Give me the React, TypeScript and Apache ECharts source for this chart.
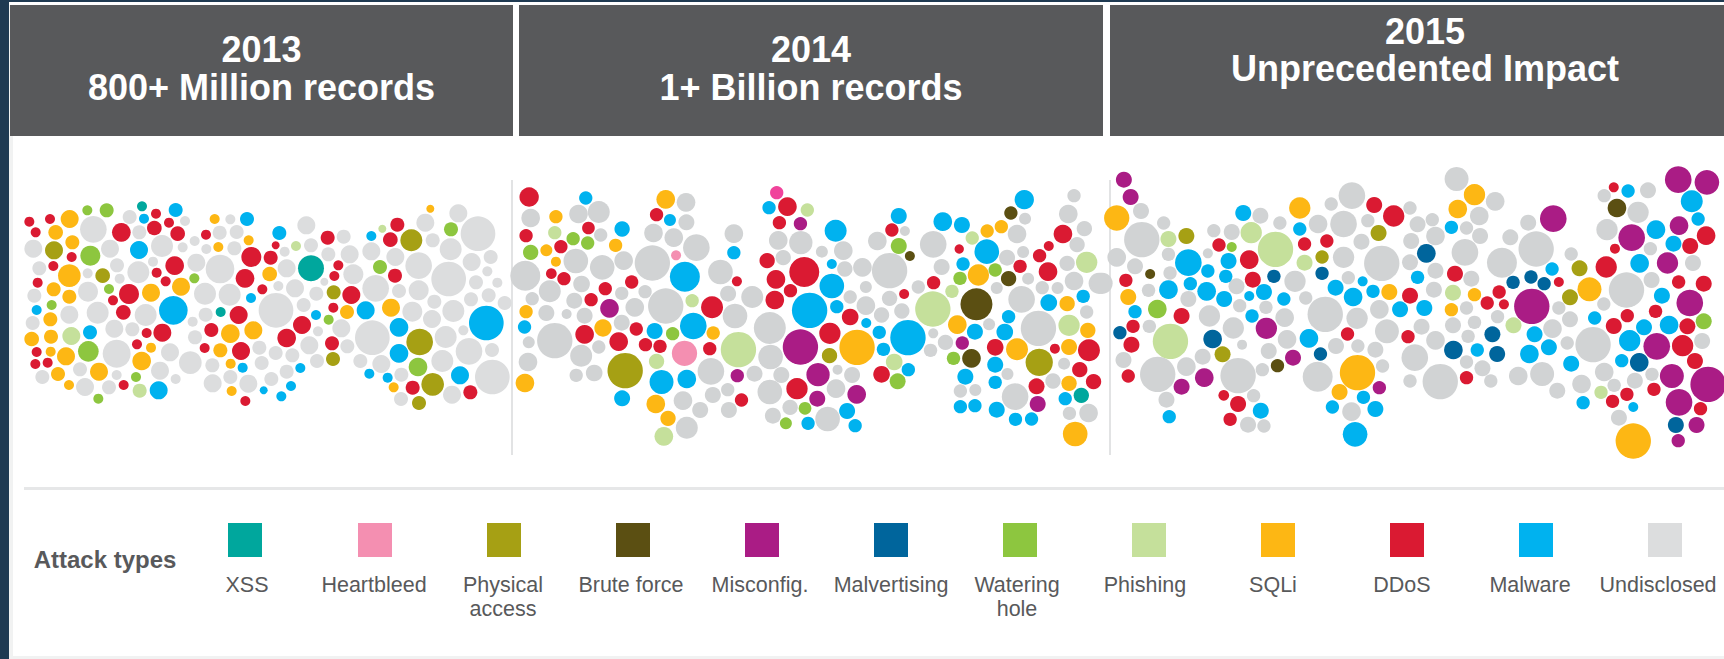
import React, { useEffect, useRef } from "react";
import * as echarts from "echarts";

// Each bubble is [x, y, radius] in the plot units of its year's panel.
type Bubble = [number, number, number];

const attackTypes = ["XSS", "Heartbleed", "Physical\naccess", "Brute force", "Misconfig.", "Malvertising", "Watering\nhole", "Phishing", "SQLi", "DDoS", "Malware", "Undisclosed"];
const attackColors = ["#00a79d", "#f48fb1", "#a6a014", "#5b4f12", "#aa1c85", "#00659c", "#8dc63f", "#c5e09b", "#fdb714", "#da1a32", "#00b2ef", "#dcddde"];
const grey2014 = "#d1d3d4";
const hotPink = "#f0439b";

const headers = [
  { lines: ["2013", "800+ Million records"], x0: 10, x1: 513, y: [49, 87] },
  { lines: ["2014", "1+ Billion records"], x0: 519, x1: 1103, y: [49, 87] },
  { lines: ["2015", "Unprecedented Impact"], x0: 1110, x1: 1740, y: [31, 68] },
];

const ddos2013: Bubble[] = [[88,665,15],[107,697,15],[150,657,15],[215,771,15],[160,798,15],[113,848,15],[364,697,28],[463,684,22],[468,641,15],[507,668,15],[533,701,22],[470,818,15],[497,844,15],[524,797,28],[387,882,30],[339,901,15],[370,937,22],[440,999,15],[487,998,27],[411,1033,15],[110,1056,15],[106,1092,15],[143,1088,15],[371,1155,15],[618,704,15],[754,771,30],[812,773,21],[827,736,12],[735,835,28],[787,868,15],[716,945,27],[634,990,21],[614,1044,15],[723,1053,27],[736,1203,15],[860,1014,28],[906,975,27],[983,713,21],[1015,796,15],[1003,828,15],[1054,885,27],[1000,923,15],[996,1030,21],[1192,674,21],[1171,719,22],[1185,827,21],[1238,1163,21],[1411,1177,21]];
const sqli2013: Bubble[] = [[209,657,27],[167,697,22],[217,727,21],[208,827,34],[161,868,21],[208,890,21],[151,958,21],[153,1010,21],[95,1017,22],[152,1055,15],[198,1069,27],[174,1122,21],[207,1155,15],[297,1115,27],[453,878,27],[543,860,27],[425,1083,28],[453,1043,15],[644,657,15],[655,741,15],[746,721,15],[809,822,22],[691,1001,28],[760,991,27],[661,1051,21],[692,1091,15],[695,1173,15],[1041,936,21],[1173,923,27],[1181,1162,15],[1291,626,12]];
const malware2013: Bubble[] = [[527,630,21],[432,656,15],[417,750,27],[520,931,43],[110,930,15],[270,997,21],[476,1171,27],[741,657,21],[838,699,21],[753,894,15],[948,945,15],[728,1103,15],[901,1104,15],[873,1158,15],[791,1171,12],[844,1189,15],[1114,708,15],[1097,931,27],[1197,982,28],[1197,1060,28],[1108,1121,15],[1163,1133,15],[1380,1126,27],[1459,969,52]];
const watering2013: Bubble[] = [[262,631,15],[320,631,21],[271,767,30],[327,867,15],[155,915,15],[265,1054,31],[408,1131,15],[295,1196,15],[583,835,15],[986,959,15],[1140,801,21],[1353,688,21],[1254,1101,28]];
const phishing2013: Bubble[] = [[214,1008,27],[419,1172,21],[888,738,15],[1147,686,12]];
const physical2013: Bubble[] = [[162,751,27],[308,827,22],[1001,877,21],[999,1077,21],[1234,721,33],[1259,1026,40],[1298,1153,34],[1257,1209,21]];
const xss2013: Bubble[] = [[426,619,15],[662,936,15],[933,805,39]];
const undisclosed2013: Bubble[] = [[100,746,27],[280,688,40],[389,651,21],[418,697,21],[555,663,15],[486,738,33],[330,746,27],[548,742,15],[118,805,21],[351,796,21],[415,817,33],[459,785,15],[263,820,15],[359,836,15],[103,887,21],[264,875,30],[208,944,27],[293,938,33],[437,945,33],[98,969,21],[343,986,27],[397,988,21],[350,1061,42],[510,1057,27],[240,1108,21],[127,1131,21],[480,1112,27],[350,1125,15],[255,1161,27],[327,1162,21],[527,1137,15],[571,1088,34],[584,723,15],[619,747,15],[659,698,21],[710,696,21],[691,658,15],[703,745,21],[589,788,27],[660,807,43],[615,881,33],[689,884,33],[617,944,21],[578,965,15],[585,1012,21],[637,1096,21],[691,1131,21],[638,1150,27],[745,1151,27],[778,1043,21],[827,1059,21],[785,1089,21],[877,1066,21],[860,1115,21],[814,1137,21],[919,676,27],[933,736,21],[854,755,15],[860,805,27],[835,858,15],[885,865,27],[949,881,21],[828,931,52],[911,915,21],[954,994,15],[928,1036,27],[951,1083,21],[1031,710,21],[985,763,21],[1049,763,27],[1060,823,30],[973,845,12],[1024,985,27],[1042,1039,21],[1127,865,40],[1114,754,27],[1186,771,27],[1197,873,21],[1237,935,30],[1256,797,40],[1276,668,27],[1375,640,27],[1298,721,21],[1352,748,33],[1434,701,52],[1415,786,27],[1472,771,21],[1462,814,15],[1346,837,52],[1428,847,21],[1492,848,15],[1256,871,30],[1466,886,21],[1413,898,21],[1303,905,21],[1296,957,27],[1360,933,33],[1514,909,21],[1337,1011,33],[1390,991,15],[1407,1054,40],[1476,1050,21],[1327,1083,33],[1477,1131,52],[1117,1013,52],[1081,1083,21],[1144,1092,27],[1204,1124,21],[1356,1184,27],[1203,1197,21]];

const ddos2014: Bubble[] = [[50,141,29],[42,257,20],[205,234,19],[133,290,20],[108,371,16],[141,386,20],[318,396,20],[249,416,20],[212,449,20],[195,553,28],[284,575,28],[330,537,20],[354,584,20],[392,589,20],[383,194,20],[528,472,33],[522,596,20],[593,394,15],[725,170,28],[704,218,20],[672,332,23],[695,388,28],[733,422,20],[692,450,28],[769,366,45],[836,550,32],[750,716,32],[605,750,20],[889,501,25],[971,673,25],[998,240,20],[1107,398,20],[1030,432,15],[1174,297,14],[1333,349,20],[1384,317,20],[1408,288,15],[1406,365,28],[1445,252,28],[1268,592,25],[1424,596,15],[1513,601,33],[1489,659,23],[1525,695,23],[1376,709,24]];
const sqli2014: Bubble[] = [[120,200,20],[95,301,18],[120,335,15],[42,485,20],[276,286,20],[407,148,28],[243,534,26],[531,549,20],[39,699,28],[381,762,28],[413,805,23],[907,592,53],[1169,524,28],[1247,243,20],[1284,230,20],[1224,375,32],[1325,598,33],[1456,461,23],[1510,541,23],[1461,591,24],[1461,700,23],[1477,852,37]];
const malware2014: Bubble[] = [[198,144,20],[293,237,23],[38,531,20],[418,210,18],[585,308,20],[457,380,45],[479,528,40],[378,543,24],[462,687,28],[396,696,36],[293,745,24],[677,173,20],[851,242,33],[841,342,15],[841,408,37],[854,470,20],[783,481,53],[931,519,15],[965,547,20],[976,598,20],[1040,563,53],[1041,659,20],[1016,198,24],[1131,215,28],[1181,225,24],[1246,305,37],[1184,342,20],[1215,545,24],[1303,500,20],[1293,546,25],[1408,458,25],[1498,439,20],[1268,644,24],[1268,697,20],[1190,680,24],[1177,770,20],[1215,767,20],[1272,779,24],[1321,808,20],[1363,807,20],[1451,746,20],[1344,149,29],[779,820,20],[902,827,20],[881,783,24]];
const watering2014: Bubble[] = [[54,307,23],[165,266,20],[203,279,20],[425,551,20],[1016,288,24],[1013,694,24],[1176,385,20],[1268,360,20],[1159,625,20],[771,775,19],[721,820,18]];
const phishing2014: Bubble[] = [[117,248,20],[383,634,23],[476,452,20],[402,859,28],[597,599,53],[777,180,20],[1105,477,53],[1004,636,25],[1155,424,20],[1208,264,20],[1507,337,32],[1461,526,32]];
const physical2014: Bubble[] = [[301,662,53],[835,617,23],[1383,637,41]];
const bruteForce2014: Bubble[] = [[1309,189,20],[1045,318,15],[1303,386,23],[1219,463,48],[1206,625,28]];
const heartbleed2014: Bubble[] = [[456,610,38],[434,316,15]];
const heartbleedBright2014: Bubble[] = [[697,128,20]];
const misconfig2014: Bubble[] = [[260,475,28],[759,221,20],[594,677,20],[759,591,53],[805,674,35],[803,746,24],[906,733,28],[1182,579,20],[1379,762,24]];
const xss2014: Bubble[] = [[1493,736,23]];
const undisclosed2014: Bubble[] = [[54,204,28],[179,192,28],[232,186,33],[237,255,20],[172,333,37],[241,352,37],[297,332,28],[40,377,45],[187,402,25],[104,424,33],[58,446,20],[292,430,20],[353,425,20],[168,452,24],[148,492,15],[95,489,24],[195,497,24],[326,472,28],[292,518,24],[117,572,53],[49,577,18],[232,591,20],[186,617,33],[47,636,28],[173,676,20],[220,669,25],[460,157,28],[461,217,24],[375,249,28],[428,263,28],[487,293,40],[372,339,53],[407,468,53],[585,251,28],[550,366,37],[570,431,24],[633,441,33],[588,498,37],[679,534,48],[681,621,37],[525,664,40],[639,671,24],[709,675,24],[569,719,20],[530,735,24],[452,752,28],[497,780,24],[572,780,24],[462,833,33],[679,726,37],[687,797,24],[732,772,23],[830,807,37],[852,716,28],[856,659,15],[894,675,24],[701,271,28],[760,278,35],[714,323,23],[815,305,18],[871,302,28],[875,357,23],[921,352,28],[889,441,20],[930,411,18],[930,467,28],[971,495,23],[992,445,23],[992,362,53],[960,273,28],[1032,243,15],[1106,283,40],[1128,351,24],[1067,411,20],[1024,483,23],[1106,550,15],[1138,577,23],[1099,601,20],[1252,523,18],[1272,414,18],[1299,323,24],[1341,306,18],[1325,252,28],[1346,206,18],[1354,386,18],[1337,448,40],[1391,413,20],[1431,414,18],[1381,535,53],[1300,672,18],[1320,740,40],[1177,723,20],[1216,720,18],[1419,693,23],[1448,641,18],[1474,137,20],[1459,192,28],[1501,236,23],[1482,284,23],[1456,340,23],[1474,393,28],[1540,400,32],[1507,486,20],[1462,790,20],[1512,789,28]];

const misconfig2015: Bubble[] = [[60,89,24],[77,141,24],[418,535,32],[205,710,24],[262,683,28],[485,623,24],[702,713,20],[1139,206,40],[1085,469,53],[1453,89,40],[1525,97,37],[1336,263,40],[1455,227,28],[1426,339,32],[1482,459,40],[1399,589,40],[1437,678,36],[1528,703,53],[1455,757,40],[1499,825,24],[1453,872,20]];
const sqli2015: Bubble[] = [[42,204,38],[71,441,24],[502,174,32],[941,134,32],[899,177,28],[727,426,24],[941,434,20],[883,479,20],[1230,418,36],[647,668,53],[602,726,24],[1340,873,53]];
const ddos2015: Bubble[] = [[65,391,20],[83,529,20],[79,584,24],[71,678,20],[205,498,24],[299,285,20],[375,329,28],[384,389,24],[347,762,24],[311,736,16],[327,808,20],[514,282,20],[570,273,20],[689,165,24],[738,198,32],[622,552,20],[779,437,24],[774,560,20],[892,371,24],[973,459,20],[1003,426,20],[1015,463,15],[921,683,20],[1153,396,15],[1272,351,32],[1291,112,15],[1294,296,15],[1523,257,28],[1483,288,24],[1454,396,20],[1517,401,24],[1396,484,20],[1325,497,20],[1291,528,24],[1476,529,24],[1464,587,32],[1495,633,24],[1392,718,20],[1324,733,20],[1288,754,20],[1509,776,20]];
const malware2015: Bubble[] = [[360,189,24],[502,237,20],[222,338,40],[323,333,24],[271,363,20],[316,379,20],[227,401,20],[172,419,28],[268,424,28],[312,447,24],[375,438,15],[412,426,24],[462,447,20],[88,485,20],[382,498,20],[525,565,28],[592,413,24],[636,441,28],[660,394,15],[686,424,20],[754,478,24],[815,474,24],[798,382,20],[883,232,20],[948,600,20],[1079,612,28],[1128,592,24],[1092,553,24],[1136,357,20],[1184,641,24],[1243,504,20],[1214,758,20],[1327,123,20],[1487,154,33],[1503,207,20],[1397,239,28],[1441,281,24],[1356,340,28],[1412,437,24],[1430,525,28],[1367,532,24],[1331,572,32],[1311,632,20],[1340,771,15],[662,742,20],[692,777,24],[584,771,20],[174,800,20],[404,782,24],[641,853,37]];
const malvertising2015: Bubble[] = [[50,548,20],[283,567,28],[437,379,20],[558,370,20],[820,310,28],[554,612,20],[888,600,28],[986,553,24],[998,612,24],[1038,397,20],[1083,381,20],[1116,401,20],[1355,637,28],[1447,825,24]];
const watering2015: Bubble[] = [[144,477,28],[331,291,15],[1517,514,24]];
const phishing2015: Bubble[] = [[172,267,24],[380,248,32],[441,298,53],[514,338,24],[177,574,53],[887,428,24],[1039,526,24],[1259,727,20]];
const physical2015: Bubble[] = [[217,258,24],[308,613,24],[558,321,20],[700,249,24],[1205,355,24],[1181,442,24]];
const bruteForce2015: Bubble[] = [[126,372,15],[446,647,20],[1299,174,28]];
const undisclosed2015: Bubble[] = [[103,183,24],[105,269,53],[160,219,20],[42,322,28],[88,349,24],[172,313,20],[176,369,20],[5,400,32],[122,421,20],[222,447,24],[124,529,20],[59,630,24],[145,673,53],[217,650,28],[167,749,24],[275,498,32],[271,310,15],[286,242,20],[331,246,24],[403,197,24],[452,219,20],[343,409,24],[351,467,20],[417,472,20],[335,534,32],[357,584,15],[258,620,24],[347,677,53],[372,824,24],[412,828,20],[386,737,20],[408,659,20],[424,603,24],[470,568,28],[464,503,28],[490,394,32],[517,444,20],[548,222,28],[581,162,20],[633,137,40],[612,222,40],[657,275,24],[612,322,32],[673,212,20],[708,340,53],[624,383,20],[702,478,28],[566,493,53],[646,505,32],[593,588,24],[648,588,20],[692,599,24],[721,544,36],[710,648,20],[547,680,45],[632,785,28],[779,174,20],[798,223,24],[835,209,20],[843,258,28],[782,273,24],[779,337,24],[843,362,24],[839,419,24],[808,530,24],[843,571,28],[791,623,40],[779,693,20],[855,695,53],[896,87,36],[953,198,28],[993,154,28],[921,234,20],[955,258,24],[917,307,40],[933,386,24],[921,474,20],[887,526,24],[941,517,20],[925,559,20],[921,636,20],[961,655,24],[982,693,20],[1010,338,45],[1031,262,24],[1076,218,24],[1096,297,53],[999,500,20],[1153,474,20],[1137,536,28],[1181,508,24],[1174,579,20],[1239,584,53],[1111,672,36],[1051,678,28],[1149,722,24],[1184,312,20],[1323,420,53],[1266,462,20],[1210,702,28],[1267,666,28],[1292,706,20],[1344,692,24],[1387,673,20],[1304,803,24],[1267,137,20],[1377,121,24],[1352,187,32],[1274,239,32],[1383,296,20],[1490,339,24],[1386,390,24],[1513,573,24]];

const FONT = "Liberation Sans";
const UNITS_PER_PX = 3;

function bubbleSeries(name: string, color: string, gridIndex: number, data: Bubble[]) {
  return {
    type: "scatter",
    name,
    xAxisIndex: gridIndex,
    yAxisIndex: gridIndex,
    clip: false,
    symbol: "circle",
    symbolSize: (v: Bubble) => (2 * v[2]) / UNITS_PER_PX,
    itemStyle: { color, opacity: 1 },
    silent: true,
    data,
  };
}

function pageGraphics() {
  const box = (x: number, y: number, width: number, height: number, fill: string) => ({
    type: "rect",
    shape: { x, y, width, height },
    style: { fill },
    z: 0,
  });
  const label = (text: string, x: number, y: number, fontSize: number, fontWeight: string, fill: string) => ({
    type: "text",
    style: { text, x, y, fontFamily: FONT, fontSize, fontWeight, fill, align: "center", verticalAlign: "middle" },
    z: 5,
  });
  const items: any[] = [
    box(0, 0, 1724, 659, "#ffffff"),
    box(0, 0, 9, 659, "#1f3a52"),
    box(0, 0, 1724, 2, "#1f3a52"),
    box(9, 5, 4, 654, "#f1f2f2"),
    box(13, 656, 1711, 3, "#f1f2f2"),
    box(24, 487, 1700, 3, "#e6e7e8"),
    box(511, 180, 2, 275, "#e2e3e4"),
    box(1109, 180, 2, 275, "#e2e3e4"),
    label("Attack types", 105, 559, 24, "bold", "#58595b"),
  ];
  headers.forEach((h) => {
    items.push(box(h.x0, 5, Math.min(h.x1, 1724) - h.x0, 131, "#58595b"));
    h.lines.forEach((line, i) => {
      items.push(label(line, (h.x0 + h.x1) / 2, h.y[i], 36, "bold", "#ffffff"));
    });
  });
  const swatchLeft = [228, 358, 487, 616, 745, 874, 1003, 1132, 1261, 1390, 1519, 1648];
  const labelCenter = [247, 374, 503, 631, 760, 891, 1017, 1145, 1273, 1402, 1530, 1658];
  attackTypes.forEach((name, i) => {
    items.push(box(swatchLeft[i], 523, 34, 34, attackColors[i]));
    name.split("\n").forEach((line, j) => {
      items.push(label(line, labelCenter[i], 585 + j * 24, 21.5, "normal", "#58595b"));
    });
  });
  return items;
}

const hiddenAxis = (gridIndex: number, max: number, inverse: boolean) => ({
  type: "value",
  gridIndex,
  min: 0,
  max,
  inverse,
  show: false,
});

export default function App() {
  const ref = useRef<HTMLDivElement>(null);
  useEffect(() => {
    document.body.style.margin = "0";
    document.body.style.overflow = "hidden";
    const chart = echarts.init(ref.current!, null, { renderer: "svg" });
    const [xss, heart, phys, brute, mis, malv, water, phish, sqli, ddos, mal, und] = attackColors;
    chart.setOption({
      animation: false,
      grid: [
        { left: 0, top: 0, width: 520, height: 420 },
        { left: 510, top: 150, width: 600, height: 310 },
        { left: 1100, top: 150, width: 624, height: 310 },
      ],
      xAxis: [hiddenAxis(0, 1560, false), hiddenAxis(1, 1568, false), hiddenAxis(2, 1568, false)],
      yAxis: [hiddenAxis(0, 1260, true), hiddenAxis(1, 930, true), hiddenAxis(2, 930, true)],
      graphic: { elements: pageGraphics() },
      series: [
        bubbleSeries("Undisclosed 2013", und, 0, undisclosed2013),
        bubbleSeries("DDoS 2013", ddos, 0, ddos2013),
        bubbleSeries("SQLi 2013", sqli, 0, sqli2013),
        bubbleSeries("Malware 2013", mal, 0, malware2013),
        bubbleSeries("Watering hole 2013", water, 0, watering2013),
        bubbleSeries("Phishing 2013", phish, 0, phishing2013),
        bubbleSeries("Physical access 2013", phys, 0, physical2013),
        bubbleSeries("XSS 2013", xss, 0, xss2013),
        bubbleSeries("Undisclosed 2014", grey2014, 1, undisclosed2014),
        bubbleSeries("DDoS 2014", ddos, 1, ddos2014),
        bubbleSeries("SQLi 2014", sqli, 1, sqli2014),
        bubbleSeries("Malware 2014", mal, 1, malware2014),
        bubbleSeries("Watering hole 2014", water, 1, watering2014),
        bubbleSeries("Phishing 2014", phish, 1, phishing2014),
        bubbleSeries("Physical access 2014", phys, 1, physical2014),
        bubbleSeries("Brute force 2014", brute, 1, bruteForce2014),
        bubbleSeries("Heartbleed 2014", heart, 1, heartbleed2014),
        bubbleSeries("Heartbleed bright 2014", hotPink, 1, heartbleedBright2014),
        bubbleSeries("Misconfig. 2014", mis, 1, misconfig2014),
        bubbleSeries("XSS 2014", xss, 1, xss2014),
        bubbleSeries("Undisclosed 2015", grey2014, 2, undisclosed2015),
        bubbleSeries("Misconfig. 2015", mis, 2, misconfig2015),
        bubbleSeries("SQLi 2015", sqli, 2, sqli2015),
        bubbleSeries("DDoS 2015", ddos, 2, ddos2015),
        bubbleSeries("Malware 2015", mal, 2, malware2015),
        bubbleSeries("Malvertising 2015", malv, 2, malvertising2015),
        bubbleSeries("Watering hole 2015", water, 2, watering2015),
        bubbleSeries("Phishing 2015", phish, 2, phishing2015),
        bubbleSeries("Physical access 2015", phys, 2, physical2015),
        bubbleSeries("Brute force 2015", brute, 2, bruteForce2015),
      ],
    });
    return () => chart.dispose();
  }, []);
  return <div ref={ref} style={{ width: 1724, height: 659, position: "absolute", left: 0, top: 0 }} />;
}
